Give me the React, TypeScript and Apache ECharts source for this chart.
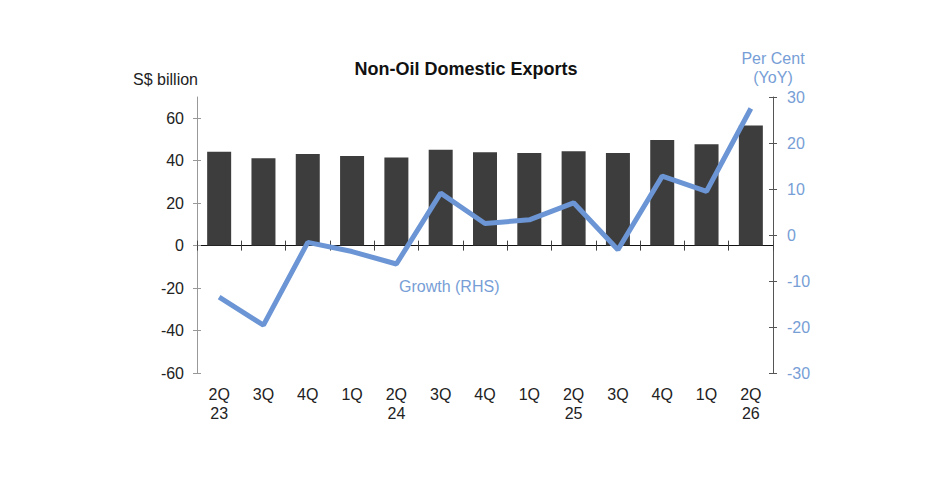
import React, { useEffect, useRef } from "react";
import * as echarts from "echarts";

const categories = ["2Q\n23", "3Q", "4Q", "1Q", "2Q\n24", "3Q", "4Q", "1Q", "2Q\n25", "3Q", "4Q", "1Q", "2Q\n26"];
const exportsBillion = [44.2, 41.2, 43.1, 42.2, 41.5, 45.1, 44.0, 43.6, 44.4, 43.6, 49.8, 47.8, 56.6];
const growthPct = [-13.5, -19.6, -1.6, -3.6, -6.3, 9.1, 2.5, 3.3, 7.0, -3.2, 12.8, 9.5, 27.5];
const leftTicks = [-60, -40, -20, 0, 20, 40, 60];
const rightTicks = [-30, -20, -10, 0, 10, 20, 30];

const FONT = "'Liberation Sans', Arial, sans-serif";
const BLUE = "#6b95d4";
const BLUE_TEXT = "#779ed6";

export default function App() {
  const ref = useRef<HTMLDivElement>(null);
  useEffect(() => {
    if (!ref.current) return;
    const chart = echarts.init(ref.current, null, { renderer: "svg" });
    const hiddenLabel = { show: false };
    chart.setOption({
      animation: false,
      backgroundColor: "#ffffff",
      textStyle: { fontFamily: FONT },
      grid: { left: 197, right: 179, top: 97, bottom: 111, containLabel: false },
      graphic: [
        { type: "text", x: 466, y: 69, style: { text: "Non-Oil Domestic Exports", font: `bold 18px ${FONT}`, fill: "#111", textAlign: "center", textVerticalAlign: "middle" } },
        { type: "text", x: 198, y: 79, style: { text: "S$ billion", font: `16px ${FONT}`, fill: "#222", textAlign: "right", textVerticalAlign: "middle" } },
        { type: "text", x: 773, y: 58, style: { text: "Per Cent", font: `16px ${FONT}`, fill: BLUE_TEXT, textAlign: "center", textVerticalAlign: "middle" } },
        { type: "text", x: 773, y: 77, style: { text: "(YoY)", font: `16px ${FONT}`, fill: BLUE_TEXT, textAlign: "center", textVerticalAlign: "middle" } },
        { type: "text", x: 399, y: 286, style: { text: "Growth (RHS)", font: `16px ${FONT}`, fill: BLUE_TEXT, textAlign: "left", textVerticalAlign: "middle" } },
      ],
      xAxis: [
        {
          type: "category", data: categories, position: "bottom",
          axisLine: { show: true, onZero: true, onZeroAxisIndex: 0, lineStyle: { color: "#111", width: 1 } },
          axisTick: { show: true, inside: false, length: 5, lineStyle: { color: "#444" } },
          axisLabel: hiddenLabel, splitLine: { show: false },
        },
        {
          type: "category", data: categories, position: "bottom",
          axisLine: { show: false, onZero: false },
          axisTick: { show: false },
          axisLabel: { show: true, color: "#222", fontSize: 16, fontFamily: FONT, lineHeight: 19, margin: 12, interval: 0 },
          splitLine: { show: false },
        },
        {
          type: "category", data: categories, position: "bottom",
          axisLine: { show: false, onZero: true, onZeroAxisIndex: 0 },
          axisTick: { show: true, inside: true, length: 5, lineStyle: { color: "#444" } },
          axisLabel: hiddenLabel, splitLine: { show: false },
        },
      ],
      yAxis: [
        {
          type: "value", position: "left", min: -60, max: 70, interval: 10,
          axisLine: { show: true, lineStyle: { color: "#999" } },
          axisTick: { show: true, length: 4, customValues: leftTicks, lineStyle: { color: "#999" } },
          axisLabel: { show: true, customValues: leftTicks, color: "#222", fontSize: 16, fontFamily: FONT, margin: 13 },
          splitLine: { show: false },
        },
        {
          type: "value", position: "right", min: -30, max: 30, interval: 10,
          axisLine: { show: true, lineStyle: { color: "#555" } },
          axisTick: { show: true, length: 4, customValues: rightTicks, lineStyle: { color: "#555" } },
          axisLabel: { show: true, customValues: rightTicks, color: BLUE_TEXT, fontSize: 16, fontFamily: FONT, margin: 14 },
          splitLine: { show: false },
        },
        {
          type: "value", position: "left", min: -60, max: 70, interval: 10,
          axisLine: { show: false },
          axisTick: { show: true, inside: true, length: 4, customValues: leftTicks, lineStyle: { color: "#999" } },
          axisLabel: hiddenLabel, splitLine: { show: false },
        },
        {
          type: "value", position: "right", min: -30, max: 30, interval: 10,
          axisLine: { show: false },
          axisTick: { show: true, inside: true, length: 4, customValues: rightTicks, lineStyle: { color: "#555" } },
          axisLabel: hiddenLabel, splitLine: { show: false },
        },
      ],
      series: [
        {
          type: "bar", name: "Non-Oil Domestic Exports", data: exportsBillion, xAxisIndex: 0, yAxisIndex: 0,
          barWidth: 24, itemStyle: { color: "#3d3d3d" }, z: 2,
        },
        {
          type: "line", name: "Growth (RHS)", data: growthPct, xAxisIndex: 0, yAxisIndex: 1,
          symbol: "none", lineStyle: { color: BLUE, width: 5 }, itemStyle: { color: BLUE }, z: 5,
        },
      ],
    });
    return () => chart.dispose();
  }, []);
  return <div ref={ref} style={{ position: "fixed", left: 0, top: 0, width: 952, height: 484 }} />;
}
